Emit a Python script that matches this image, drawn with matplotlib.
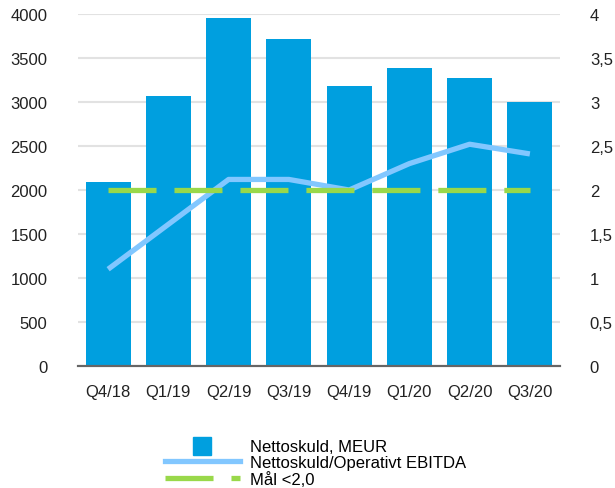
import numpy as np
import matplotlib.pyplot as plt
from matplotlib.lines import Line2D

plt.rcParams['font.family'] = ['Liberation Sans', 'DejaVu Sans']

# data ------------------------------------------------------------------------

quarters = ['Q4/18', 'Q1/19', 'Q2/19', 'Q3/19', 'Q4/19', 'Q1/20', 'Q2/20', 'Q3/20']
net_debt = [2090, 3070, 3950, 3720, 3180, 3390, 3270, 3000]
debt_ebitda = [1.1, 1.61, 2.12, 2.12, 2.0, 2.3, 2.52, 2.41]
target = [2.0] * len(quarters)

BAR_COLOR = '#009FDF'
LINE_COLOR = '#82C7FF'
TARGET_COLOR = '#99D84A'
DASHES = (9.1, 3.4)

# plot ------------------------------------------------------------------------

fig = plt.figure(figsize=(6.15, 4.89), dpi=100)
ax = fig.add_axes([78 / 615, 1 - 367 / 489, 482 / 615, 352 / 489])
ax2 = ax.twinx()

x = np.arange(len(quarters))
ax.bar(x, net_debt, width=0.75, color=BAR_COLOR, zorder=2)
ax.set_xlim(-0.5, len(quarters) - 0.5)
ax.set_ylim(0, 4000)
ax.set_yticks(np.arange(0, 4001, 500))
ax.grid(axis='y', color='#e2e2e2', linewidth=1.5, zorder=0)
ax.set_axisbelow(True)
ax.set_xticks(x)
ax.set_xticklabels(quarters)

ax2.plot(x, debt_ebitda, color=LINE_COLOR, linewidth=3.8, solid_capstyle='butt', zorder=3)
ax2.plot(x, target, color=TARGET_COLOR, linewidth=3.8, dashes=DASHES, zorder=4)
ax2.set_ylim(0, 4)
ax2.set_yticks(np.arange(0, 4.01, 0.5))
ax2.set_yticklabels(['0', '0,5', '1', '1,5', '2', '2,5', '3', '3,5', '4'])

for a in (ax, ax2):
    for side in ('top', 'left', 'right'):
        a.spines[side].set_visible(False)
    a.spines['bottom'].set_color('#666666')
    a.spines['bottom'].set_linewidth(1.5)
    a.tick_params(length=0, labelsize=12, colors='#222222')
ax.tick_params(axis='y', pad=22)
ax.tick_params(axis='x', pad=13)
ax2.tick_params(axis='y', pad=21.5)

handles = [
    Line2D([], [], marker='s', linestyle='none', markersize=12.5, color=BAR_COLOR),
    Line2D([], [], color=LINE_COLOR, linewidth=3.8),
    Line2D([], [], color=TARGET_COLOR, linewidth=3.8, dashes=DASHES),
]
labels = ['Nettoskuld, MEUR', 'Nettoskuld/Operativt EBITDA', 'Mål <2,0']
fig.legend(handles, labels, loc='lower center', bbox_to_anchor=(0.513, -0.022),
           frameon=False, fontsize=12, handlelength=4.5, handletextpad=0.65,
           labelspacing=0.05, borderpad=0.2)

fig.savefig('out.png', dpi=100)
